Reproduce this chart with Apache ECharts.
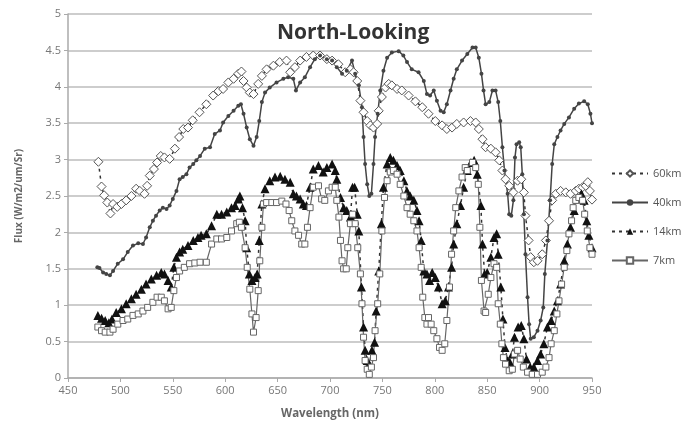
<!DOCTYPE html>
<html>
<head>
<meta charset="utf-8">
<script src="https://cdn.jsdelivr.net/npm/echarts@6/dist/echarts.min.js"></script>
<style>
  html, body {margin: 0; padding: 0; background: #fff;}
  #chart {width: 693px; height: 427px;}
</style>
</head>
<body>
<div id="chart"></div>
<script>
  // 60km - open diamonds, dashed
  const wl60 = [479, 482, 484.5, 487.5, 490.5, 493, 497, 501, 505.5, 510.5, 515, 518.5, 523, 525.5, 528, 532, 535, 538.5, 542, 547, 552, 556, 560, 564.5, 569, 575.5, 582, 588.5, 593.5, 598, 603, 608, 612.5, 615.5, 617.5, 620.5, 623.5, 627, 631.5, 635, 639.5, 646, 652, 658.5, 662, 666.5, 671.5, 677.5, 684, 690.5, 697, 702, 708, 714.5, 719.5, 722.5, 726, 729, 732, 735.5, 738.5, 741.5, 745, 746.5, 749.5, 753, 756, 759, 764, 768.5, 775, 781.5, 788, 794, 800.5, 807, 811.5, 816.5, 821, 827.5, 834, 839, 842, 845.5, 848.5, 853.5, 858, 861.5, 864.5, 867.5, 871, 875, 879, 882.5, 885, 886.5, 889.5, 891.5, 894.5, 898, 902.5, 906, 909, 912, 915.5, 920, 925, 929.5, 934.5, 937.5, 941, 944, 946, 948, 950];
  const flux60 = [2.97, 2.63, 2.51, 2.41, 2.26, 2.39, 2.35, 2.39, 2.44, 2.50, 2.60, 2.57, 2.53, 2.64, 2.78, 2.87, 2.96, 3.05, 3.03, 3.01, 3.15, 3.31, 3.42, 3.44, 3.54, 3.65, 3.76, 3.88, 3.94, 3.97, 4.06, 4.11, 4.18, 4.21, 4.08, 3.99, 3.92, 3.90, 4.04, 4.15, 4.24, 4.29, 4.34, 4.36, 4.20, 4.27, 4.36, 4.41, 4.43, 4.43, 4.38, 4.36, 4.31, 4.20, 4.24, 4.20, 4.08, 3.81, 3.65, 3.53, 3.47, 3.44, 3.49, 3.67, 3.86, 3.99, 4.04, 4.02, 3.97, 3.95, 3.88, 3.80, 3.72, 3.63, 3.53, 3.47, 3.42, 3.44, 3.49, 3.51, 3.53, 3.51, 3.42, 3.28, 3.17, 3.15, 3.10, 2.99, 2.85, 2.73, 2.64, 2.55, 2.71, 2.73, 2.55, 2.23, 1.89, 1.66, 1.59, 1.61, 1.70, 1.89, 2.16, 2.44, 2.53, 2.57, 2.55, 2.53, 2.57, 2.60, 2.62, 2.64, 2.69, 2.57, 2.45];

  // 40km - small filled dots, solid
  const wl40 = [478, 480, 483.5, 486.5, 490, 493, 497.5, 502.5, 507, 512, 517, 521.5, 524.5, 528, 531, 534, 537.5, 540.5, 544, 547, 550, 553.5, 556.5, 559.5, 563, 566, 569.5, 572.5, 576, 580.5, 585.5, 590, 595, 598, 603, 608, 612.5, 615, 617.5, 620.5, 623.5, 627, 630, 632.5, 635, 638, 642.5, 649, 655.5, 660, 665, 667.5, 671.5, 676, 681, 685.5, 690.5, 697, 702, 706.5, 711.5, 716, 721, 724, 727.5, 730.5, 732, 733.5, 735.5, 737.5, 739.5, 741.5, 743, 745.5, 748, 751, 754.5, 759, 765.5, 770, 773.5, 778, 784.5, 789.5, 792.5, 795.5, 799, 802, 805.5, 808.5, 811.5, 815, 818, 821, 826, 831, 836, 839, 842, 844.5, 846.5, 848.5, 852, 855, 858, 860.5, 862.5, 864.5, 866.5, 869.5, 871, 873, 875, 876.5, 878, 880.5, 882, 883.5, 885, 886.5, 888.5, 890, 891.5, 894.5, 898, 901, 903.5, 905, 907.5, 910, 912, 914, 917, 920, 923.5, 928, 933, 937.5, 942.5, 946, 948.5, 950];
  const flux40 = [1.52, 1.51, 1.45, 1.43, 1.41, 1.47, 1.57, 1.63, 1.73, 1.82, 1.85, 1.84, 1.93, 2.07, 2.16, 2.23, 2.30, 2.34, 2.32, 2.37, 2.46, 2.57, 2.73, 2.76, 2.80, 2.89, 2.94, 2.99, 3.05, 3.15, 3.17, 3.35, 3.40, 3.51, 3.60, 3.67, 3.74, 3.76, 3.63, 3.44, 3.28, 3.19, 3.31, 3.53, 3.79, 3.92, 3.99, 4.06, 4.11, 4.13, 4.11, 3.95, 4.06, 4.13, 4.27, 4.38, 4.43, 4.38, 4.36, 4.27, 4.18, 4.22, 4.36, 4.18, 4.02, 3.72, 3.31, 2.94, 2.66, 2.50, 2.53, 2.94, 3.31, 3.63, 3.95, 4.22, 4.40, 4.47, 4.49, 4.43, 4.34, 4.24, 4.20, 4.08, 3.90, 3.88, 3.95, 3.81, 3.67, 3.65, 3.76, 3.95, 4.11, 4.24, 4.36, 4.45, 4.54, 4.54, 4.40, 4.18, 3.95, 3.76, 3.79, 3.95, 3.95, 3.79, 3.53, 3.17, 2.85, 2.53, 2.25, 2.23, 2.44, 3.03, 3.21, 3.24, 3.17, 2.80, 2.25, 1.70, 1.11, 0.74, 0.54, 0.56, 0.65, 0.79, 0.97, 1.43, 1.89, 2.44, 2.94, 3.21, 3.31, 3.40, 3.49, 3.58, 3.70, 3.77, 3.80, 3.76, 3.63, 3.50];

  // 14km - filled triangles, dashed
  const wl14 = [478.5, 482, 485.5, 489, 492, 496, 501, 505.5, 510.5, 515, 520, 524.5, 529.5, 534.5, 539, 542, 545.5, 548.5, 551, 553.5, 556.5, 559.5, 564.5, 569.5, 574, 577, 582, 587, 592, 596.5, 601.5, 606, 609.5, 612.5, 614, 616.5, 619, 620.5, 623, 625.5, 628.5, 630.5, 632.5, 635, 638, 642.5, 647.5, 652.5, 657, 662, 665, 668, 671.5, 674.5, 677.5, 681, 684, 689, 693.5, 697, 702, 705, 706.5, 710, 713, 716, 719.5, 721.5, 723.5, 726, 727.5, 730, 732, 733.5, 735.5, 737.5, 740, 742.5, 744, 746.5, 749, 751, 754.5, 757.5, 760.5, 764, 767, 770.5, 773.5, 776.5, 780, 783, 785, 787, 789.5, 792.5, 795, 797.5, 800.5, 803.5, 807, 810, 813, 816, 818, 821, 824.5, 827.5, 831, 834.5, 837.5, 840.5, 844, 845.5, 847.5, 850, 853.5, 856.5, 859, 860.5, 863, 865, 867, 869.5, 871.5, 874, 876, 879.5, 882.5, 885, 887.5, 891, 894.5, 898, 901, 904, 907.5, 911, 914, 917, 920, 923.5, 926.5, 929.5, 933, 936, 940, 942.5, 945, 947, 950];
  const flux14 = [0.86, 0.82, 0.79, 0.76, 0.81, 0.90, 0.95, 1.02, 1.09, 1.15, 1.22, 1.29, 1.36, 1.41, 1.45, 1.43, 1.34, 1.25, 1.52, 1.66, 1.73, 1.77, 1.82, 1.89, 1.93, 1.96, 1.98, 2.09, 2.25, 2.25, 2.28, 2.34, 2.37, 2.46, 2.50, 2.34, 2.16, 1.79, 1.43, 1.34, 1.38, 1.43, 1.89, 2.39, 2.60, 2.71, 2.76, 2.77, 2.73, 2.69, 2.53, 2.50, 2.46, 2.39, 2.37, 2.62, 2.87, 2.92, 2.83, 2.89, 2.94, 2.85, 2.73, 2.48, 2.34, 2.30, 2.21, 2.62, 2.62, 2.25, 2.02, 1.25, 0.70, 0.38, 0.24, 0.19, 0.38, 0.49, 0.92, 1.47, 2.12, 2.62, 2.94, 3.03, 2.99, 2.92, 2.85, 2.71, 2.57, 2.50, 2.44, 2.30, 2.16, 1.89, 1.47, 1.43, 1.34, 1.45, 1.38, 1.25, 1.02, 1.06, 1.25, 1.52, 1.84, 2.12, 2.37, 2.62, 2.85, 2.96, 2.99, 2.80, 2.37, 1.84, 1.43, 1.45, 1.66, 1.93, 1.98, 1.70, 1.25, 0.81, 0.42, 0.24, 0.22, 0.33, 0.56, 0.70, 0.72, 0.54, 0.26, 0.15, 0.15, 0.24, 0.33, 0.47, 0.70, 0.79, 0.92, 1.06, 1.29, 1.61, 1.84, 2.07, 2.30, 2.46, 2.53, 2.44, 2.16, 1.96, 1.79];

  // 7km - open squares, solid
  const wl7 = [478.5, 482, 485.5, 490, 493, 497.5, 502.5, 507, 512, 517, 521.5, 526, 531, 535, 539, 542, 545.5, 548.5, 551, 553.5, 556.5, 561, 566, 571, 576, 582, 587, 592, 596.5, 601.5, 606, 611, 613.5, 615.5, 619, 621, 623.5, 625.5, 627, 629.5, 631.5, 633, 635, 636.5, 639.5, 644.5, 649, 654, 658, 661, 663.5, 666.5, 670, 673, 676, 678.5, 681, 684, 689, 692, 695, 698.5, 702, 705, 706.5, 708.5, 710, 711.5, 713, 715.5, 717, 719.5, 721.5, 724, 726.5, 729, 730.5, 732, 733.5, 735.5, 737.5, 739.5, 741.5, 743, 745.5, 747.5, 749.5, 752, 754.5, 757.5, 760.5, 764, 767, 770.5, 773.5, 776.5, 780, 783, 785, 787, 788.5, 790.5, 792.5, 794, 796.5, 799, 802, 804.5, 807, 809.5, 811.5, 814, 816, 818, 820, 823, 826, 829, 831, 836, 839, 841.5, 843, 844.5, 847, 848.5, 851, 853.5, 856.5, 859, 860.5, 862.5, 864, 865.5, 867.5, 871, 874, 876, 879, 881.5, 884.5, 888.5, 893, 898, 902.5, 906, 909, 911, 914, 916.5, 918.5, 921, 923.5, 926, 928, 930.5, 932, 934.5, 937.5, 941, 943, 945.5, 948, 950];
  const flux7 = [0.70, 0.65, 0.63, 0.63, 0.67, 0.74, 0.79, 0.81, 0.86, 0.88, 0.92, 0.97, 1.04, 1.11, 1.11, 1.06, 0.95, 0.97, 1.20, 1.38, 1.47, 1.52, 1.57, 1.58, 1.59, 1.59, 1.84, 1.91, 1.91, 1.93, 2.02, 2.12, 2.14, 2.07, 1.79, 1.52, 1.22, 0.88, 0.63, 0.83, 1.20, 1.61, 2.07, 2.39, 2.41, 2.41, 2.41, 2.43, 2.39, 2.30, 2.16, 2.02, 1.96, 1.84, 1.84, 2.07, 2.34, 2.62, 2.64, 2.46, 2.44, 2.57, 2.62, 2.62, 2.44, 2.21, 1.89, 1.61, 1.50, 1.50, 1.79, 2.12, 2.25, 2.12, 1.79, 1.43, 1.02, 0.56, 0.24, 0.12, 0.05, 0.15, 0.28, 0.65, 1.02, 1.43, 2.02, 2.48, 2.71, 2.83, 2.85, 2.80, 2.66, 2.50, 2.34, 2.25, 2.16, 2.02, 1.79, 1.52, 1.11, 0.83, 0.74, 0.83, 0.74, 0.65, 0.54, 0.42, 0.38, 0.47, 0.79, 1.25, 1.70, 2.02, 2.34, 2.57, 2.76, 2.89, 2.85, 2.96, 2.89, 2.66, 2.07, 1.34, 0.92, 0.90, 1.15, 1.38, 1.57, 1.52, 1.02, 0.74, 0.47, 0.28, 0.19, 0.10, 0.12, 0.33, 0.38, 0.26, 0.15, 0.08, 0.05, 0.05, 0.08, 0.15, 0.28, 0.47, 0.65, 0.88, 1.06, 1.29, 1.52, 1.75, 1.98, 2.16, 2.34, 2.44, 2.48, 2.44, 2.25, 2.02, 1.79, 1.70];

  const xTicks = [450, 500, 550, 600, 650, 700, 750, 800, 850, 900, 950];
  const yTicks = [0, 0.5, 1, 1.5, 2, 2.5, 3, 3.5, 4, 4.5, 5];

  function pairs(xs, ys) {
    return xs.map((x, i) => [x, ys[i]]);
  }

  const fontName = 'Open Sans';
  const chart = echarts.init(document.getElementById('chart'), null, {renderer: 'canvas'});

  const option = {
    backgroundColor: '#fff',
    animation: false,
    title: {
      text: 'North-Looking',
      left: 272,
      top: 18,
      textStyle: {fontFamily: fontName, fontSize: 21, fontWeight: 'bold', color: '#333'}
    },
    grid: {left: 68, right: 101, top: 14, bottom: 49},
    legend: {
      orient: 'vertical',
      left: 606,
      top: 163,
      itemWidth: 36,
      itemHeight: 8,
      itemGap: 18,
      textStyle: {fontFamily: fontName, fontSize: 11, color: '#555'},
      data: ['60km', '40km', '14km', '7km']
    },
    xAxis: {
      type: 'value',
      min: xTicks[0],
      max: xTicks[xTicks.length - 1],
      interval: 50,
      name: 'Wavelength (nm)',
      nameLocation: 'middle',
      nameGap: 30,
      nameTextStyle: {fontFamily: fontName, fontSize: 11.5, fontWeight: 'bold', color: '#666'},
      axisLine: {show: true, lineStyle: {color: '#aaa', width: 1.5}},
      axisTick: {show: true, length: 4, lineStyle: {color: '#aaa'}},
      axisLabel: {fontFamily: fontName, fontSize: 11, color: '#777', margin: 7},
      splitLine: {show: false}
    },
    yAxis: {
      type: 'value',
      min: yTicks[0],
      max: yTicks[yTicks.length - 1],
      interval: 0.5,
      name: 'Flux (W/m2/um/Sr)',
      nameLocation: 'middle',
      nameGap: 44,
      nameTextStyle: {fontFamily: fontName, fontSize: 10, fontWeight: 'bold', color: '#666'},
      axisLine: {show: true, lineStyle: {color: '#aaa', width: 1.5}},
      axisTick: {show: true, length: 4, lineStyle: {color: '#aaa'}},
      axisLabel: {fontFamily: fontName, fontSize: 11, color: '#777', margin: 7},
      splitLine: {show: true, lineStyle: {color: '#bdbdbd', width: 1.5}}
    },
    series: [
      {
        name: '60km',
        type: 'line',
        data: pairs(wl60, flux60),
        symbol: 'diamond',
        symbolSize: 9,
        showAllSymbol: true,
        lineStyle: {color: '#333', width: 1.5, type: [3, 4]},
        itemStyle: {color: '#fff', borderColor: '#555', borderWidth: 1}
      },
      {
        name: '40km',
        type: 'line',
        data: pairs(wl40, flux40),
        symbol: 'circle',
        symbolSize: 4,
        showAllSymbol: true,
        lineStyle: {color: '#444', width: 1.5},
        itemStyle: {color: '#444', borderColor: '#444', borderWidth: 0}
      },
      {
        name: '14km',
        type: 'line',
        data: pairs(wl14, flux14),
        symbol: 'triangle',
        symbolSize: 9,
        showAllSymbol: true,
        lineStyle: {color: '#333', width: 1.5, type: [3, 4]},
        itemStyle: {color: '#111', borderColor: '#111', borderWidth: 0}
      },
      {
        name: '7km',
        type: 'line',
        data: pairs(wl7, flux7),
        symbol: 'rect',
        symbolSize: 6,
        showAllSymbol: true,
        lineStyle: {color: '#666', width: 1.2},
        itemStyle: {color: '#fff', borderColor: '#666', borderWidth: 1}
      }
    ]
  };

  chart.setOption(option);
</script>
</body>
</html>
